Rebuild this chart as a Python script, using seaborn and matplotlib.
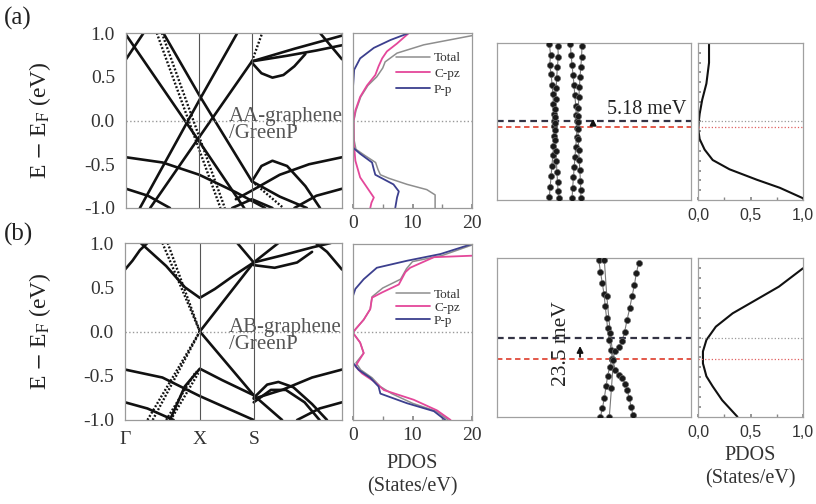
import numpy as np
import pandas as pd
import matplotlib
matplotlib.use("Agg")
import matplotlib.pyplot as plt
import seaborn as sns

# ---- band structures (k path: Gamma=0, X=1, S=1.72), energies in eV ----
k_ticks = [0.0, 1.0, 1.72]
k_labels = ["\u0393", "X", "S"]

bands_a_k = [
    [0.0, 1.0, 1.63],
    [0.51, 1.0, 1.72, 2.1, 2.47],
    [0.19, 1.0, 1.52],
    [0.33, 1.0, 1.72, 2.3, 2.95],
    [1.72, 2.2, 2.6, 2.95],
    [0.0, 0.08, 0.16, 0.24],
    [2.95, 2.85, 2.75, 2.65],
    [1.72, 1.85, 2.0, 2.15, 2.3, 2.45],
    [0.0, 0.5, 1.0, 1.5, 1.9],
    [2.95, 2.5, 2.1, 1.72, 1.5],
    [1.72, 1.85, 2.0, 2.2, 2.45, 2.65],
    [0.0, 0.3, 0.6],
    [2.95, 2.6, 2.3],
    [1.45, 1.72, 2.0],
    [1.72, 1.86],
    [0.42, 1.29],
    [0.49, 1.35],
    [1.72, 2.15],
]
bands_a_E = [
    [0.98, -0.24, -1.02],
    [1.0, 0.29, -0.695, -0.87, -1.0],
    [-1.0, 0.23, 1.0],
    [-1.0, -0.19, 0.676, 0.82, 0.97],
    [0.676, 0.74, 0.80, 0.86],
    [0.70, 0.80, 0.90, 1.0],
    [0.70, 0.80, 0.90, 1.0],
    [0.66, 0.54, 0.49, 0.52, 0.62, 0.76],
    [-0.42, -0.48, -0.62, -0.82, -1.0],
    [-0.42, -0.50, -0.62, -0.80, -0.9],
    [-0.695, -0.52, -0.46, -0.52, -0.75, -1.0],
    [-0.78, -0.86, -1.0],
    [-0.78, -0.86, -1.0],
    [-1.0, -0.90, -1.0],
    [0.676, 1.0],
    [1.0, -1.0],
    [1.0, -1.0],
    [-0.695, -1.0],
]
bands_a_style = ["solid"] * 14 + ["dotted"] * 4

bands_b_k = [
    [0.21, 0.55, 0.8, 1.0, 1.2, 1.45, 1.72],
    [1.0, 1.72, 2.05],
    [1.0, 1.72, 2.1],
    [0.6, 0.8, 1.0, 1.3, 1.72],
    [0.0, 0.5, 1.0, 1.4, 1.72],
    [2.9, 2.5, 2.1, 1.72],
    [1.72, 1.9, 2.05, 2.25, 2.5, 2.7],
    [1.72, 1.95, 2.15, 2.4, 2.6],
    [0.0, 0.3, 0.65],
    [2.9, 2.6, 2.3],
    [0.0, 0.1, 0.2, 0.3],
    [2.9, 2.8, 2.7, 2.55],
    [1.72, 2.1, 2.5, 2.75],
    [1.72, 2.0, 2.3, 2.5],
    [1.5, 1.72],
    [0.30, 1.0],
    [0.37, 1.0],
    [0.50, 1.0],
    [0.57, 1.0],
    [0.55, 0.95],
    [0.61, 0.98],
]
bands_b_E = [
    [1.0, 0.74, 0.50, 0.38, 0.48, 0.63, 0.78],
    [0.0, 0.78, 1.0],
    [0.0, -0.72, -1.0],
    [-1.0, -0.62, -0.42, -0.55, -0.72],
    [-0.43, -0.52, -0.73, -0.88, -1.0],
    [-0.43, -0.52, -0.66, -0.76],
    [-0.75, -0.60, -0.57, -0.63, -0.82, -1.0],
    [-0.80, -0.66, -0.66, -0.80, -1.0],
    [-0.80, -0.87, -1.0],
    [-0.80, -0.87, -1.0],
    [0.70, 0.80, 0.92, 1.0],
    [0.70, 0.80, 0.90, 1.0],
    [0.78, 0.86, 0.95, 1.0],
    [0.75, 0.72, 0.78, 0.90],
    [1.0, 0.78],
    [-1.0, 0.0],
    [-1.0, 0.0],
    [1.0, 0.0],
    [1.0, 0.0],
    [-1.0, -0.45],
    [-1.0, -0.47],
]
bands_b_style = ["solid"] * 15 + ["dotted"] * 6

# ---- PDOS (States/eV) ----
pdos_a_tot_E = [0.97, 0.865, 0.77, 0.67, 0.60, 0.50, 0.40, 0.27, 0.115, 0.0, -0.23,
                -0.33, -0.40, -0.48, -0.56, -0.62, -0.66, -0.73, -0.79, -0.85, -1.0]
pdos_a_tot_x = [20.0, 11.9, 7.4, 5.4, 5.0, 4.0, 2.5, 1.3, 0.5, 0.15, 0.2,
                0.5, 2.0, 3.8, 4.2, 4.6, 6.0, 9.1, 12.4, 13.8, 13.8]
pdos_a_c_E = [1.0, 0.88, 0.79, 0.71, 0.62, 0.52, 0.40, 0.27, 0.115, 0.0, -0.23,
              -0.46, -0.65, -0.79, -0.88, -0.94, -1.0]
pdos_a_c_x = [9.4, 7.4, 5.7, 4.9, 4.3, 3.75, 2.35, 1.2, 0.4, 0.1, 0.1,
              0.4, 1.2, 2.6, 3.5, 3.1, 2.9]
pdos_a_p_E = [1.0, 0.92, 0.83, 0.71, 0.58, 0.38, 0.0, -0.31, -0.38, -0.48,
              -0.56, -0.62, -0.73, -0.81, -0.88, -1.0]
pdos_a_p_x = [9.4, 6.3, 3.5, 1.2, 0.2, 0.0, 0.0, 0.0, 1.2, 3.2,
              3.5, 3.75, 6.8, 7.7, 7.4, 7.1]

pdos_b_tot_E = [1.0, 0.87, 0.80, 0.72, 0.60, 0.50, 0.40, 0.26, 0.14, 0.03, -0.01,
                -0.12, -0.24, -0.35, -0.43, -0.52, -0.62, -0.70, -0.81, -0.90, -1.0]
pdos_b_tot_x = [20.5, 15.0, 10.0, 9.0, 8.0, 5.0, 3.2, 2.9, 1.8, 0.4, 0.0,
                1.2, 1.8, 0.5, 1.3, 3.2, 4.6, 6.5, 10.0, 14.0, 16.0]
pdos_b_c_E = [0.867, 0.85, 0.73, 0.68, 0.54, 0.45, 0.39, 0.26, 0.14, 0.03, -0.01,
              -0.12, -0.24, -0.33, -0.39, -0.47, -0.56, -0.66, -0.77, -0.89, -1.0]
pdos_b_c_x = [20.0, 13.6, 9.6, 8.8, 7.7, 4.9, 3.2, 2.9, 1.8, 0.4, 0.0,
              1.2, 1.8, 0.95, 0.4, 1.5, 3.5, 5.2, 10.2, 14.1, 16.4]
pdos_b_p_E = [1.0, 0.886, 0.81, 0.73, 0.60, 0.49, 0.41, -0.35, -0.43, -0.52,
              -0.62, -0.70, -0.81, -0.90, -1.0]
pdos_b_p_x = [20.0, 14.7, 9.1, 4.0, 1.8, 0.4, 0.0, 0.0, 0.95, 2.9,
              4.3, 4.6, 9.1, 13.6, 15.5]

# ---- zoom near E_F (x: fraction of window, E in meV) ----
shift_a = 5.18
shift_b = 23.5
zoom_a_x = [
    [0.270, 0.276, 0.272, 0.279, 0.284, 0.288, 0.291, 0.294, 0.295, 0.296, 0.294, 0.291, 0.288, 0.283, 0.279, 0.274, 0.270],
    [0.314, 0.316, 0.311, 0.308, 0.305, 0.302, 0.300, 0.298, 0.297, 0.298, 0.301, 0.303, 0.306, 0.309, 0.312, 0.315, 0.318],
    [0.378, 0.382, 0.387, 0.392, 0.397, 0.401, 0.406, 0.409, 0.411, 0.412, 0.410, 0.406, 0.402, 0.398, 0.394, 0.390, 0.387],
    [0.438, 0.436, 0.432, 0.428, 0.425, 0.422, 0.419, 0.417, 0.416, 0.417, 0.419, 0.421, 0.424, 0.427, 0.430, 0.432, 0.433],
]
zoom_a_E = [
    [66, 57, 48, 40, 31, 23, 14, 6, 0, -5, -13, -22, -30, -39, -48, -57, -66],
    [64, 55, 46, 37, 28, 19, 10, 3, -2, -8, -17, -26, -35, -44, -53, -61, -67],
    [66, 57, 48, 39, 31, 22, 13, 5, 0, -6, -14, -23, -31, -40, -49, -58, -67],
    [64, 55, 46, 38, 29, 20, 11, 4, -1, -7, -16, -25, -34, -43, -52, -60, -67],
]
zoom_b_x = [
    [0.524, 0.533, 0.543, 0.552, 0.558, 0.565, 0.570, 0.579, 0.588, 0.595],
    [0.595, 0.610, 0.627, 0.644, 0.658, 0.670, 0.684, 0.696, 0.708, 0.718, 0.730],
    [0.595, 0.581, 0.570, 0.562, 0.553, 0.543, 0.533],
    [0.595, 0.610, 0.627, 0.644, 0.662, 0.670, 0.682, 0.691, 0.701],
    [0.553, 0.566, 0.584, 0.600, 0.590, 0.579],
]
zoom_b_E = [
    [85, 72, 59, 47, 34, 21, 10, -2, -13, -23.5],
    [-23.5, -15, -10, -4, 6.5, 19, 32, 45, 57, 70, 81],
    [-23.5, -31.5, -42, -53, -66, -77, -86],
    [-23.5, -35, -40.6, -44, -50, -57, -66, -75, -84],
    [85, 45, 5, -24, -55, -86],
]
dos_zoom_a_x = [0.105, 0.105, 0.105, 0.08, 0.04, 0.016, 0.006, 0.003, 0.016, 0.063, 0.14, 0.30, 0.56, 0.78, 1.0]
dos_zoom_a_E = [67, 66, 50, 32, 18, 6, -2, -8, -16, -25, -34, -42, -51, -58, -67]
dos_zoom_b_x = [1.0, 0.77, 0.52, 0.33, 0.17, 0.08, 0.047, 0.047, 0.08, 0.14, 0.23, 0.375]
dos_zoom_b_E = [75.5, 55.5, 39, 26.5, 12, -2.5, -15, -28, -42, -53, -68, -86]

# ---- style ----
sns.set_theme(style="white")
plt.rcParams["font.family"] = ["Liberation Serif", "DejaVu Serif"]
plt.rcParams["mathtext.fontset"] = "stix"
plt.rcParams["axes.unicode_minus"] = False

W, H = 816, 504
fig = plt.figure(figsize=(W / 100, H / 100), dpi=100)


def box(x0, y0, x1, y1):
    return [x0 / W, 1 - y1 / H, (x1 - x0) / W, (y1 - y0) / H]


def frame(ax, color="#9a9a9a"):
    for s in ax.spines.values():
        s.set_color(color)
        s.set_linewidth(0.9)


def band_frame(ks, es, styles):
    rows = []
    for i, (k, e, s) in enumerate(zip(ks, es, styles)):
        for kk, ee in zip(k, e):
            rows.append((i, kk, ee, s))
    return pd.DataFrame(rows, columns=["band", "k", "E", "style"])


def draw_bands(ax, df, kend, label1, show_k):
    solid = df[df["style"] == "solid"]
    dotted = df[df["style"] == "dotted"]
    sns.lineplot(data=solid, x="k", y="E", units="band", estimator=None, sort=False,
                 color="#111111", lw=1.9, ax=ax, legend=False)
    sns.lineplot(data=dotted, x="k", y="E", units="band", estimator=None, sort=False,
                 color="#111111", lw=1.7, linestyle=(0, (0.8, 0.8)), ax=ax, legend=False)
    for kv in k_ticks[1:]:
        ax.axvline(kv, color="#555555", lw=0.8)
    ax.axhline(0, color="#999999", lw=1.0, ls=":")
    ax.set_xlim(0, kend)
    ax.set_ylim(-1, 1)
    ax.set_yticks([-1.0, -0.5, 0.0, 0.5, 1.0])
    ax.set_yticklabels(["%.1f" % v for v in [-1.0, -0.5, 0.0, 0.5, 1.0]], fontsize=14, color="#333333")
    ax.tick_params(axis="y", length=0, pad=8)
    if show_k:
        ax.set_xticks(k_ticks)
        ax.set_xticklabels(k_labels, fontsize=14, color="#333333")
        ax.tick_params(axis="x", length=0, pad=8)
    else:
        ax.set_xticks([])
    ax.set_xlabel("")
    ax.set_ylabel("")
    ax.text(0.478, 0.525, label1, transform=ax.transAxes, fontsize=15, color="#555555",
            va="center", ha="left")
    ax.text(0.478, 0.425, "/GreenP", transform=ax.transAxes, fontsize=15, color="#555555",
            va="center", ha="left")
    frame(ax)


def draw_pdos(ax, tot, cpz, pp, leg_anchor, spacing):
    sns.lineplot(x=tot[0], y=tot[1], sort=False, estimator=None, color="#8e8e8e", lw=1.1,
                 ax=ax, label="Total")
    sns.lineplot(x=cpz[0], y=cpz[1], sort=False, estimator=None, color="#e4479a", lw=1.3,
                 ax=ax, label="C-pz")
    sns.lineplot(x=pp[0], y=pp[1], sort=False, estimator=None, color="#3c3f8e", lw=1.3,
                 ax=ax, label="P-p")
    ax.axhline(0, color="#999999", lw=1.0, ls=":")
    ax.set_xlim(0, 20)
    ax.set_ylim(-1, 1)
    ax.set_yticks([])
    ax.set_xticks([0, 10, 20])
    ax.set_xticks([5, 15], minor=True)
    ax.tick_params(axis="x", which="both", direction="in", length=3, color="#888888",
                   labelsize=14, labelcolor="#333333", pad=5, bottom=True)
    ax.set_xlabel("")
    ax.set_ylabel("")
    leg = ax.legend(loc="upper left", bbox_to_anchor=leg_anchor, frameon=False, fontsize=9.5,
                    handlelength=2.6, handletextpad=0.3, labelspacing=spacing,
                    borderaxespad=0, borderpad=0)
    for t in leg.get_texts():
        t.set_color("#333333")
    frame(ax)


def draw_zoom(ax, xs, es, shift, ylim, arrow_x, arrow_y):
    for x, e in zip(xs, es):
        sns.lineplot(x=x, y=e, sort=False, estimator=None, color="#777777", lw=0.8, ax=ax)
        sns.scatterplot(x=x, y=e, color="#1a1a1a", edgecolor="#666666", linewidth=0.5, s=19,
                        ax=ax, zorder=3, legend=False)
    ax.axhline(0, color="#333344", lw=1.6, ls=(0, (3, 2)))
    ax.axhline(-shift, color="#e04a3a", lw=1.3, ls=(0, (3, 2)))
    ax.annotate("", xy=(arrow_x, arrow_y[1]), xytext=(arrow_x, arrow_y[0]),
                arrowprops=dict(arrowstyle="-|>", color="#111111", lw=1.3, mutation_scale=9))
    ax.set_xlim(0, 1)
    ax.set_ylim(*ylim)
    ax.set_xticks([])
    ax.set_yticks([])
    ax.set_xlabel("")
    ax.set_ylabel("")
    frame(ax, "#a0a0a0")


def draw_dos_zoom(ax, x, e, shift, ylim):
    sns.lineplot(x=x, y=e, sort=False, estimator=None, color="#111111", lw=1.5, ax=ax)
    ax.axhline(0, color="#999999", lw=0.9, ls=":")
    ax.axhline(-shift, color="#e06060", lw=0.9, ls=":")
    ax.set_xlim(0, 1.0)
    ax.set_ylim(*ylim)
    ax.set_xticks([0, 0.5, 1.0])
    ax.set_xticklabels(["0,0", "0,5", "1,0"], family=["Liberation Sans", "DejaVu Sans"],
                       fontsize=11.5, color="#333333")
    ax.set_xticks([0.25, 0.75], minor=True)
    ax.set_yticks(np.linspace(ylim[0], ylim[1], 17)[1:-1])
    ax.set_yticklabels([])
    ax.tick_params(axis="both", which="both", direction="in", length=2, color="#888888",
                   left=True, bottom=True, pad=6)
    ax.set_xlabel("")
    ax.set_ylabel("")
    frame(ax, "#a0a0a0")


df_a = band_frame(bands_a_k, bands_a_E, bands_a_style)
df_b = band_frame(bands_b_k, bands_b_E, bands_b_style)

ax_band_a = fig.add_axes(box(126, 33, 342, 208))
draw_bands(ax_band_a, df_a, 2.95, "AA-graphene", False)
ax_band_b = fig.add_axes(box(125, 243, 342, 420))
draw_bands(ax_band_b, df_b, 2.9, "AB-graphene", True)

ax_dos_a = fig.add_axes(box(353, 33, 472, 208))
draw_pdos(ax_dos_a, (pdos_a_tot_x, pdos_a_tot_E), (pdos_a_c_x, pdos_a_c_E),
          (pdos_a_p_x, pdos_a_p_E), (0.36, 0.89), 0.25)
ax_dos_b = fig.add_axes(box(353, 244, 472, 420))
draw_pdos(ax_dos_b, (pdos_b_tot_x, pdos_b_tot_E), (pdos_b_c_x, pdos_b_c_E),
          (pdos_b_p_x, pdos_b_p_E), (0.36, 0.745), 0.05)

ylim_a = (-68.5, 67)
ylim_b = (-86.3, 86.7)
ax_zoom_a = fig.add_axes(box(497, 43, 691, 200))
draw_zoom(ax_zoom_a, zoom_a_x, zoom_a_E, shift_a, ylim_a, 0.495, (-5, 4))
ax_zoom_a.text(0.567, 10, "5.18 meV", fontsize=14.5, color="#222222", va="center", ha="left")
ax_zoom_b = fig.add_axes(box(497, 258, 691, 417))
draw_zoom(ax_zoom_b, zoom_b_x, zoom_b_E, shift_b, ylim_b, 0.428, (-24, -6))
ax_zoom_b.text(0.335, -7, "23.5 meV", fontsize=15.5, color="#222222", va="center", ha="center",
               rotation=90)

ax_dz_a = fig.add_axes(box(698, 43, 803, 200))
draw_dos_zoom(ax_dz_a, dos_zoom_a_x, dos_zoom_a_E, shift_a, ylim_a)
ax_dz_b = fig.add_axes(box(698, 258, 803, 417))
draw_dos_zoom(ax_dz_b, dos_zoom_b_x, dos_zoom_b_E, shift_b, ylim_b)

# figure texts
ylab = r"E $-$ E$_{\mathrm{F}}$ (eV)"
fig.text(40 / W, 1 - 120.5 / H, ylab, rotation=90, fontsize=17, color="#222222",
         ha="center", va="center")
fig.text(40 / W, 1 - 331.5 / H, ylab, rotation=90, fontsize=17, color="#222222",
         ha="center", va="center")
fig.text(4 / W, 1 - 18 / H, "(a)", fontsize=18, color="#222222", ha="left", va="center")
fig.text(4 / W, 1 - 234 / H, "(b)", fontsize=18, color="#222222", ha="left", va="center")
for xc, yb in ((412, 463), (750, 455)):
    fig.text(xc / W, 1 - yb / H, "PDOS", fontsize=14.5, color="#333333", ha="center", va="center")
    fig.text(xc / W, 1 - (yb + 24) / H, "(States/eV)", fontsize=14.5, color="#333333",
             ha="center", va="center")

fig.savefig("out.png", dpi=100)
